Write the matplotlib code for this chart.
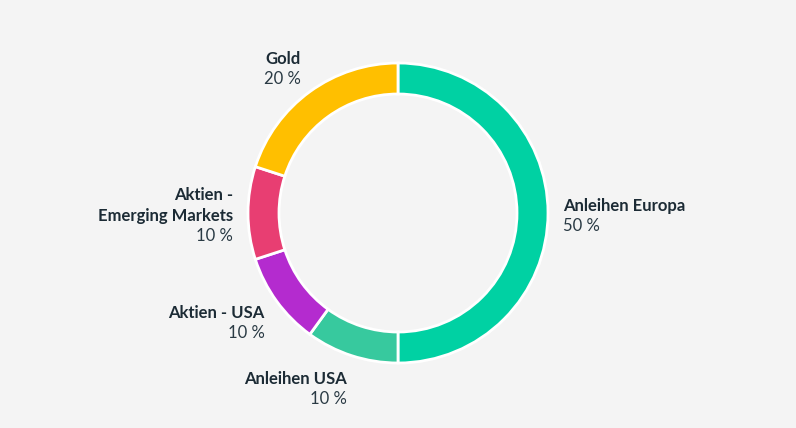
import numpy as np
import matplotlib.pyplot as plt

# Daten
kategorien = ['Anleihen Europa', 'Anleihen USA', 'Aktien - USA',
              'Aktien -\nEmerging Markets', 'Gold']
anteile = [50, 10, 10, 10, 20]
farben = ['#00D1A3', '#37C99E', '#B42BCF', '#E83E72', '#FFBF00']

W, H = 796, 428
fig = plt.figure(figsize=(W / 100, H / 100), dpi=100)
fig.patch.set_facecolor('#F4F4F4')
ax = fig.add_axes([0, 0, 1, 1])
ax.set_facecolor('#F4F4F4')

cx, cy, r = 398, H - 213, 150
wedges, _ = ax.pie(anteile, colors=farben, startangle=90, counterclock=False,
                   radius=r, center=(cx, cy),
                   wedgeprops=dict(width=31, edgecolor='white', linewidth=2))

# Grenzen erst nach pie setzen
ax.set_xlim(0, W)
ax.set_ylim(0, H)
ax.set_aspect('equal')
ax.axis('off')

textfarbe = '#1C2B35'
zeile = 20.5
for w, name, wert in zip(wedges, kategorien, anteile):
    ang = np.deg2rad((w.theta1 + w.theta2) / 2)
    x = cx + 165 * np.cos(ang)
    y = cy + 182 * np.sin(ang) - 3
    ha = 'left' if np.cos(ang) > 0.01 else 'right'
    zeilen = name.split('\n')
    n = len(zeilen) + 1
    y0 = y + (n - 1) / 2 * zeile
    for i, z in enumerate(zeilen):
        ax.text(x, y0 - i * zeile, z, ha=ha, va='center', fontsize=12,
                fontweight='bold', color=textfarbe, family='Lato')
    ax.text(x, y0 - len(zeilen) * zeile, f'{wert} %', ha=ha, va='center',
            fontsize=12, color='#2A3A44', family='Lato')

fig.savefig('out.png', dpi=100, facecolor=fig.get_facecolor())
